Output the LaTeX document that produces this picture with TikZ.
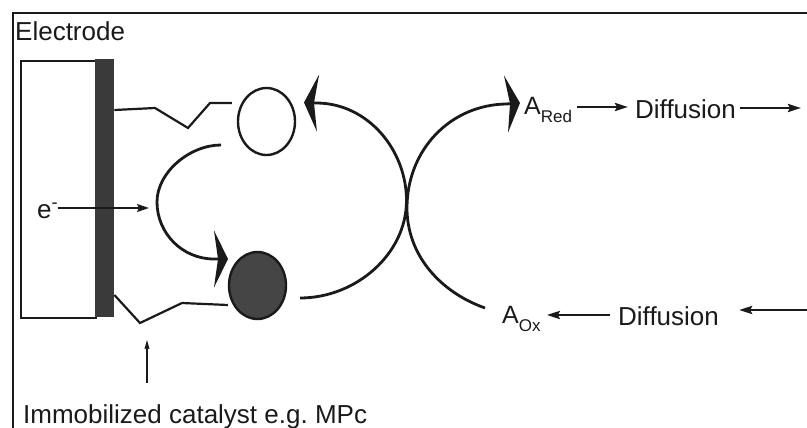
\documentclass[tikz,border=0pt]{standalone}
\usepackage{fontspec}
\setmainfont{Liberation Sans}
\usetikzlibrary{arrows.meta,shapes.geometric}
\definecolor{ink}{HTML}{1A1A1A}
\definecolor{bargray}{HTML}{3A3A3A}
\definecolor{ballgray}{HTML}{454545}
\begin{document}
\begin{tikzpicture}[x=1pt,y=-1pt,
  lbl/.style={inner sep=0pt, anchor=base west, text=ink, font=\fontsize{26}{30}\selectfont},
  albl/.style={inner sep=0pt, anchor=base west, text=ink, font=\fontsize{25}{30}\selectfont},
  curve/.style={line width=2.8pt, draw=ink},
  linker/.style={line width=2.2pt, draw=ink, line join=miter},
  bighead/.style={-{Stealth[length=14pt,width=57pt,inset=4pt]}},
  smallarrow/.style={line width=2.6pt, draw=ink, -{Stealth[length=13pt,width=8pt,inset=2pt]}},
  thinarrow/.style={line width=1.1pt, draw=ink, -{Stealth[length=9pt,width=5pt,inset=1pt]}},
  molecule/.style={ellipse, line width=2.4pt, draw=ink, minimum width=57pt, minimum height=67pt, inner sep=0pt}
]
\useasboundingbox (0,0) rectangle (807,428);
% outer frame
\draw[line width=2.4pt, draw=ink] (812,13) -- (13,13) -- (13,432);
\node[lbl] (electrode) at (15,40.7) {Electrode};
% electrode
\node[draw=ink, line width=2.2pt, minimum width=75pt, minimum height=257pt, inner sep=0pt, anchor=north west] (elec) at (20,60) {};
\node[fill=bargray, minimum width=19pt, minimum height=258pt, inner sep=0pt, anchor=north west] (bar) at (95,59) {};
% molecules
\node[molecule] (open) at (266.5,121.5) {};
\node[molecule, fill=ballgray] (full) at (257.5,285.5) {};
% linkers
\draw[linker] (bar.east |- 0,110) -- (155,108) -- (188,128) -- (210,103) -- ([xshift=-5pt]open.west |- 0,103);
\draw[linker] (bar.east |- 0,295) -- (140,323) -- (182,303) -- (full.west |- 0,305);
% electron
\node[lbl] (e) at (37,218) {e\textsuperscript{-}};
\coordinate (etip) at (149,208);
\draw[line width=1.8pt, draw=ink, -{Stealth[length=12pt,width=8pt,inset=2pt]}] (e.east |- 0,208) -- (etip);
% left small curved arrow
\coordinate (s1) at (221,145);
\coordinate (m1) at (157,202);
\coordinate (e1) at (214,259);
\coordinate (t1) at (228,259);
\draw[curve, bighead] (s1) .. controls (190,145) and (157,172) .. (m1)
   .. controls (157,233) and (182,259) .. (e1) -- (t1);
% big left arc
\coordinate (s2) at (300,298);
\coordinate (m2) at (406.5,200.6);
\coordinate (e2) at (317,103);
\coordinate (t2) at (304,102.5);
\draw[curve, bighead] (s2) .. controls (356,298) and (406.5,254) .. (m2)
   .. controls (406.5,150) and (368,103.5) .. (e2) -- (t2);
% labels right
\node[albl] (ared) at (524,115) {A\raisebox{-8pt}{\fontsize{17}{17}\selectfont Red}};
\node[albl] (aox) at (502,323) {A\raisebox{-8pt}{\fontsize{17}{17}\selectfont Ox}};
\node[lbl] (diff1) at (635,118) {Diffusion};
\node[lbl] (diff2) at (618,325) {Diffusion};
% big right arc
\coordinate (s3) at (485,308);
\coordinate (m3) at (407,208);
\coordinate (e3) at (506,104);
\coordinate (t3) at (520,103);
\draw[curve, bighead] (s3) .. controls (440,292) and (407,255) .. (m3)
   .. controls (407,150) and (450,105) .. (e3) -- (t3);
% diffusion arrows
\coordinate (outR) at (801,108);
\coordinate (inR) at (807,310);
\draw[smallarrow] ([xshift=5pt]ared.east |- 0,107) -- ([xshift=-7pt]diff1.west |- 0,107);
\draw[smallarrow] ([xshift=4pt]diff1.east |- 0,108) -- (outR);
\draw[smallarrow] ([xshift=-8pt]diff2.west |- 0,315) -- ([xshift=6pt]aox.east |- 0,315);
\draw[smallarrow] (inR) -- ([xshift=20pt]diff2.east |- 0,310);
% catalyst label
\node[lbl] (cat) at (23,423) {Immobilized catalyst e.g.\ MPc};
\coordinate (catfoot) at (147,383);
\coordinate (cathead) at (147,340);
\draw[thinarrow] (catfoot) -- (cathead);
\end{tikzpicture}
\end{document}
